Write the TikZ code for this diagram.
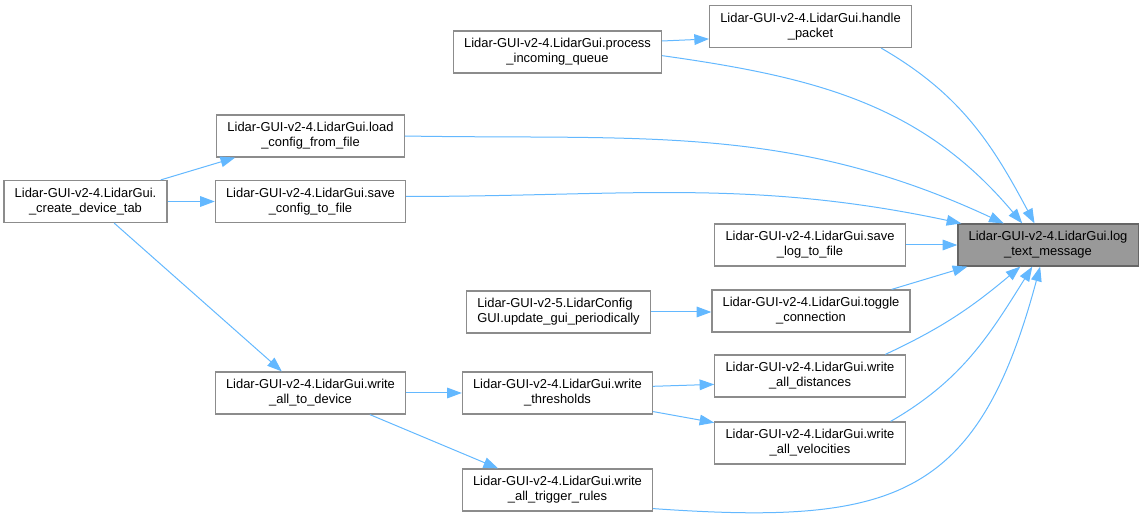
\documentclass[tikz,border=0pt]{standalone}
\usepackage{fontspec}
\setmainfont{Liberation Sans}
\usepackage{xcolor}
\usetikzlibrary{arrows.meta}
\definecolor{edgeblue}{HTML}{63B8FF}
\definecolor{boxline}{HTML}{8C8C8C}
\definecolor{curfill}{HTML}{999999}
\definecolor{curline}{HTML}{666666}

\begin{document}
\begin{tikzpicture}[x=0.75pt,y=-0.75pt,
  fn/.style={draw=boxline,fill=white,line width=0.9pt,align=center,minimum height=31.5pt,inner xsep=8pt,inner ysep=2pt,font=\fontsize{9.7pt}{11.3pt}\selectfont},
  cur/.style={fn,fill=curfill,draw=curline},
  call/.style={draw=edgeblue,line width=0.75pt,-{Triangle[length=11pt,width=8pt]}}]
  \useasboundingbox (0,0) rectangle (1143,523);
  \node[fn] (handle) at (810.5,26.5) {Lidar-GUI-v2-4.LidarGui.handle\\\_packet};
  \node[fn] (process) at (557.5,52) {Lidar-GUI-v2-4.LidarGui.process\\\_incoming\_queue};
  \node[fn] (load) at (310.5,136) {Lidar-GUI-v2-4.LidarGui.load\\\_config\_from\_file};
  \node[fn] (create) at (85.5,201.5) {Lidar-GUI-v2-4.LidarGui.\\\_create\_device\_tab};
  \node[fn] (saveconfig) at (310.5,201.5) {Lidar-GUI-v2-4.LidarGui.save\\\_config\_to\_file};
  \node[cur] (log) at (1048,245) {Lidar-GUI-v2-4.LidarGui.log\\\_text\_message};
  \node[fn] (savelog) at (810,245) {Lidar-GUI-v2-4.LidarGui.save\\\_log\_to\_file};
  \node[fn,align=left] (update) at (558.5,312) {Lidar-GUI-v2-5.LidarConfig\\GUI.update\_gui\_periodically};
  \node[fn] (toggle) at (811,311) {Lidar-GUI-v2-4.LidarGui.toggle\\\_connection};
  \node[fn] (distances) at (810,376) {Lidar-GUI-v2-4.LidarGui.write\\\_all\_distances};
  \node[fn] (todevice) at (310.5,393) {Lidar-GUI-v2-4.LidarGui.write\\\_all\_to\_device};
  \node[fn] (thresholds) at (557.5,393) {Lidar-GUI-v2-4.LidarGui.write\\\_thresholds};
  \node[fn] (velocities) at (810,443) {Lidar-GUI-v2-4.LidarGui.write\\\_all\_velocities};
  \node[fn] (trigger) at (557.5,490) {Lidar-GUI-v2-4.LidarGui.write\\\_all\_trigger\_rules};

  \draw[call] (process.6) -- (handle.187);
  \draw[call] (handle.-17) to[out=-30,in=118] (log.122);
  \draw[call] (process.-2) to[out=-8,in=130] (log.140);
  \draw[call] (load.east) to[out=-1,in=155] (log.154);
  \draw[call] (saveconfig.3) to[out=0,in=168] (log.166);
  \draw[call] (savelog.east) -- (log.west);
  \draw[call] (toggle.15) -- (log.195);
  \draw[call] (update.east) -- (toggle.west |- update.east);
  \draw[call] (distances.16) to[out=25,in=-140] (log.218);
  \draw[call] (velocities.15) to[out=30,in=-122] (log.234);
  \draw[call] (trigger.-11) to[out=-4,in=-105,looseness=1.35] (log.250);
  \draw[call] (create.16) -- (load.196);
  \draw[call] (create.east) -- (saveconfig.west);
  \draw[call] (create.-37) -- (todevice.143);
  \draw[call] (todevice.east) -- (thresholds.west);
  \draw[call] (todevice.-20) -- (trigger.160);
  \draw[call] (thresholds.4) -- (distances.185);
  \draw[call] (thresholds.-11) -- (velocities.168);
\end{tikzpicture}
\end{document}
